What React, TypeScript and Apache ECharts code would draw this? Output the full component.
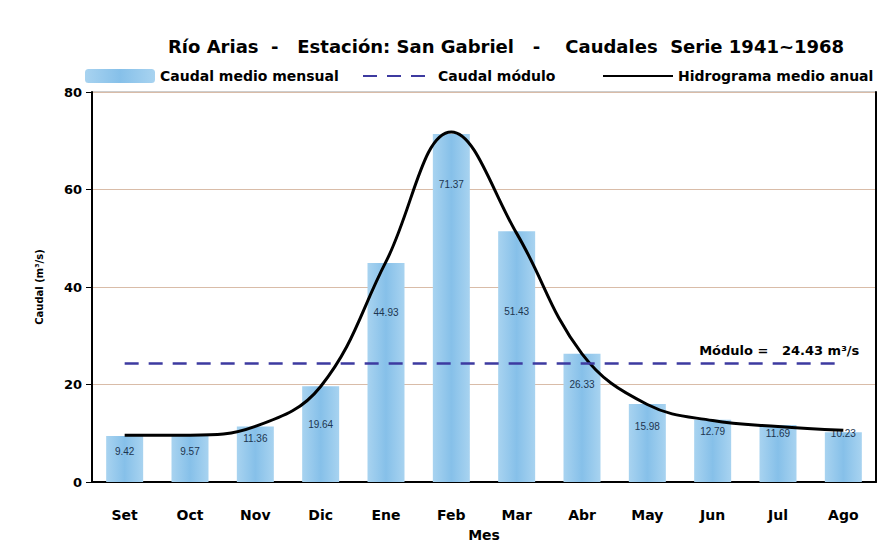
import React, { useEffect, useRef } from "react";
import * as echarts from "echarts";

const months = ["Set", "Oct", "Nov", "Dic", "Ene", "Feb", "Mar", "Abr", "May", "Jun", "Jul", "Ago"];
const caudalMensual = [9.42, 9.57, 11.36, 19.64, 44.93, 71.37, 51.43, 26.33, 15.98, 12.79, 11.69, 10.23];
const hidrograma = [9.6, 9.6, 11.4, 19.6, 45.2, 71.8, 51.0, 26.3, 15.9, 12.6, 11.4, 10.6];
const modulo = 24.43;
const yTicks = { min: 0, max: 80, interval: 20 };

// label depth below bar top (style only)
const labelDrop = [5, 6, 2, 28, 40, 40, 70, 21, 12, 2, -2, -9];

const FONT = "DejaVu Sans";

export default function App() {
  const ref = useRef<HTMLDivElement>(null);
  useEffect(() => {
    if (!ref.current) return;
    const chart = echarts.init(ref.current, null, { renderer: "svg" });
    const barGrad = new echarts.graphic.LinearGradient(0, 0, 1, 0, [
      { offset: 0, color: "#a8d3f0" },
      { offset: 0.5, color: "#86c0e9" },
      { offset: 1, color: "#a8d3f0" },
    ]);
    const legendText = { fontFamily: FONT, fontWeight: "bold", fontSize: 14, color: "#000" };
    const legendBase = { top: 64, itemWidth: 70, itemHeight: 14, textStyle: legendText };
    chart.setOption({
      animation: false,
      backgroundColor: "#ffffff",
      textStyle: { fontFamily: FONT },
      title: {
        text: "Río Arias  -   Estación: San Gabriel   -    Caudales  Serie 1941~1968",
        left: 163,
        top: 32,
        textStyle: { fontFamily: FONT, fontWeight: "bold", fontSize: 18, color: "#000" },
      },
      legend: [
        { ...legendBase, left: 80, data: [{ name: "Caudal medio mensual" }] },
        {
          ...legendBase,
          left: 357,
          itemStyle: { opacity: 0 },
          data: [{ name: "Caudal módulo" }],
        },
        {
          ...legendBase,
          left: 597,
          itemStyle: { opacity: 0 },
          data: [{ name: "Hidrograma medio anual" }],
        },
      ],
      grid: { left: 92, right: 15, top: 92, bottom: 66, show: true, borderColor: "#9a9a9a", borderWidth: 1 },
      xAxis: {
        type: "category",
        data: months,
        boundaryGap: true,
        axisLine: { lineStyle: { color: "#000", width: 2 } },
        axisTick: { show: false },
        axisLabel: { fontFamily: FONT, fontWeight: "bold", fontSize: 14, color: "#000", margin: 26 },
        name: "Mes",
        nameLocation: "middle",
        nameGap: 46,
        nameTextStyle: { fontFamily: FONT, fontWeight: "bold", fontSize: 14, color: "#000" },
      },
      yAxis: [
        {
          type: "value",
          min: yTicks.min,
          max: yTicks.max,
          interval: yTicks.interval,
          axisLine: { show: true, lineStyle: { color: "#000", width: 2 } },
          axisTick: { show: true, length: 6, lineStyle: { color: "#000" } },
          axisLabel: { fontFamily: FONT, fontWeight: "bold", fontSize: 13, color: "#000", margin: 10 },
          splitLine: { lineStyle: { color: "#d9bca8", width: 1 } },
          name: "Caudal (m³/s)",
          nameLocation: "middle",
          nameGap: 48,
          nameRotate: 90,
          nameTextStyle: { fontFamily: FONT, fontWeight: "bold", fontSize: 10, color: "#000" },
        },
        {
          type: "value",
          position: "right",
          min: yTicks.min,
          max: yTicks.max,
          interval: yTicks.interval,
          axisLine: { show: true, lineStyle: { color: "#000", width: 2 } },
          axisTick: { show: false },
          axisLabel: { show: false },
          splitLine: { show: false },
        },
      ],
      series: [
        {
          name: "Caudal medio mensual",
          type: "bar",
          barWidth: 37,
          itemStyle: { color: barGrad },
          data: caudalMensual.map((v, i) => ({
            value: v,
            label: { offset: [0, labelDrop[i]] },
          })),
          label: {
            show: true,
            position: "insideTop",
            fontFamily: "Liberation Sans",
            fontSize: 10,
            color: "#1d3550",
            formatter: (p: any) => p.value.toFixed(2),
          },
          z: 1,
        },
        {
          name: "Caudal módulo",
          type: "line",
          data: [],
          symbol: "none",
          lineStyle: { color: "#3d3aa0", width: 2.5, type: [14, 10] },
          itemStyle: { color: "#3d3aa0" },
          markLine: {
            silent: true,
            symbol: "none",
            lineStyle: { color: "#3d3aa0", width: 2.5, type: [14, 10] },
            label: {
              show: true,
              position: "insideEndTop",
              formatter: "Módulo =   " + modulo.toFixed(2) + " m³/s",
              fontFamily: FONT,
              fontWeight: "bold",
              fontSize: 13,
              color: "#000",
              distance: [-16, 6],
            },
            data: [[{ coord: [months[0], modulo] }, { coord: [months[months.length - 1], modulo] }]],
          },
          z: 3,
        },
        {
          name: "Hidrograma medio anual",
          type: "line",
          data: hidrograma,
          smooth: 0.4,
          symbol: "none",
          lineStyle: { color: "#000", width: 3 },
          itemStyle: { color: "#000" },
          z: 4,
        },
      ],
    });
    return () => chart.dispose();
  }, []);
  return <div ref={ref} style={{ width: 891, height: 548, margin: -8 }} />;
}
